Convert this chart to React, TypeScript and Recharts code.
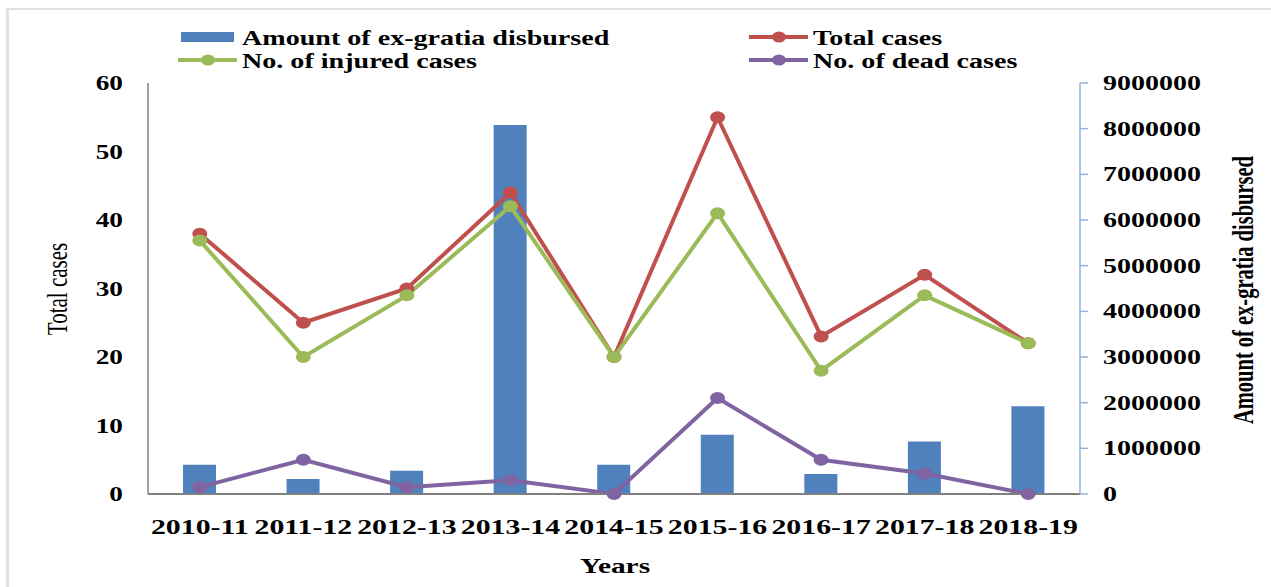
import React from 'react';
import {
  ComposedChart, Bar, Line, XAxis, YAxis, Legend, Customized,
} from 'recharts';

const years = ['2010-11', '2011-12', '2012-13', '2013-14', '2014-15', '2015-16', '2016-17', '2017-18', '2018-19'];
const exGratia = [640000, 330000, 510000, 8080000, 640000, 1300000, 440000, 1150000, 1920000];
const totalCases = [38, 25, 30, 44, 20, 55, 23, 32, 22];
const injuredCases = [37, 20, 29, 42, 20, 41, 18, 29, 22];
const deadCases = [1, 5, 1, 2, 0, 14, 5, 3, 0];
const leftTicks = [0, 10, 20, 30, 40, 50, 60];
const rightTicks = [0, 1000000, 2000000, 3000000, 4000000, 5000000, 6000000, 7000000, 8000000, 9000000];

const data = years.map((y, i) => ({
  year: y,
  amount: exGratia[i],
  total: totalCases[i],
  injured: injuredCases[i],
  dead: deadCases[i],
}));

const FONT = '"Liberation Serif", "Times New Roman", serif';
const SX = 1.4;
const BLUE = '#4F81BD';
const RED = '#C0504D';
const GREEN = '#9BBB59';
const PURPLE = '#8064A2';
const AXIS_BLUE = '#95B3D7';

const StretchText = ({ x, y, anchor, children, size = 20, weight = 'bold', sx = SX }: any) => (
  <g transform={`translate(${x},${y})`}>
    <text
      transform={`scale(${sx},1)`}
      textAnchor={anchor}
      dy="0.35em"
      fontFamily={FONT}
      fontWeight={weight}
      fontSize={size}
      fill="#000"
    >
      {children}
    </text>
  </g>
);

const LeftTick = (props: any) => (
  <StretchText x={props.x} y={props.y} anchor="end" size={21} sx={1.3}>{props.payload.value}</StretchText>
);
const RightTick = (props: any) => (
  <StretchText x={props.x} y={props.y} anchor="start">{props.payload.value}</StretchText>
);
const BottomTick = (props: any) => (
  <StretchText x={props.x} y={props.y + 33} anchor="middle" size={21.3}>{props.payload.value}</StretchText>
);

const makeDot = (color: string) => (props: any) => {
  const { cx, cy, index } = props;
  if (cx == null || cy == null) return <g key={index} />;
  return <ellipse key={index} cx={cx} cy={cy} rx={7.5} ry={6} fill={color} />;
};

const legendPos: Record<string, { x: number; y: number }> = {
  amount: { x: 178, y: 37 },
  total: { x: 749, y: 37 },
  injured: { x: 178, y: 60 },
  dead: { x: 749, y: 60 },
};

const LegendContent = (props: any) => {
  const payload = props.payload || [];
  return (
    <svg width={1271} height={80} style={{ display: 'block' }}>
      {payload.map((p: any) => {
        const pos = legendPos[p.dataKey];
        if (!pos) return null;
        const isBar = p.dataKey === 'amount';
        return (
          <g key={p.dataKey}>
            {isBar ? (
              <rect x={pos.x + 3} y={pos.y - 5} width={53} height={10} fill={BLUE} />
            ) : (
              <g>
                <line x1={pos.x} x2={pos.x + 59} y1={pos.y} y2={pos.y} stroke={p.color} strokeWidth={4} />
                <ellipse cx={pos.x + 30} cy={pos.y} rx={7} ry={5.5} fill={p.color} />
              </g>
            )}
            <StretchText x={pos.x + 64} y={pos.y + 1} anchor="start" size={20.5} sx={1.37}>{p.value}</StretchText>
          </g>
        );
      })}
    </svg>
  );
};

const Titles = () => (
  <g>
    <g transform={`translate(57,289) scale(${SX},1) rotate(-90)`}>
      <text textAnchor="middle" dy="0.35em" fontFamily={FONT} fontSize={21} fill="#000">Total cases</text>
    </g>
    <g transform={`translate(1243,290) scale(${SX},1) rotate(-90)`}>
      <text textAnchor="middle" dy="0.35em" fontFamily={FONT} fontWeight="bold" fontSize={20.5} fill="#000">Amount of ex-gratia disbursed</text>
    </g>
    <StretchText x={615} y={566} anchor="middle" size={21}>Years</StretchText>
  </g>
);

export default function App() {
  return (
    <div style={{ position: 'absolute', left: 0, top: 0, width: 1271, height: 587, background: '#fff', overflow: 'hidden' }}>
      <div style={{ position: 'absolute', left: 6, top: 8, width: 1400, height: 700, borderLeft: '3px solid #e0e0e0', borderTop: '2px solid #e0e0e0' }} />
      <div style={{ position: 'absolute', left: 0, top: 0 }}>
        <ComposedChart
          width={1271}
          height={587}
          data={data}
          margin={{ top: 83, right: 41, bottom: 33, left: 48 }}
        >
          <XAxis
            dataKey="year"
            height={60}
            tickSize={0}
            tickMargin={0}
            tick={<BottomTick />}
            axisLine={{ stroke: '#808080', strokeWidth: 2 }}
            tickLine={false}
            interval={0}
          />
          <YAxis
            yAxisId="left"
            orientation="left"
            width={100}
            domain={[0, 60]}
            ticks={leftTicks}
            tickSize={0}
            tickMargin={25}
            tick={<LeftTick />}
            axisLine={{ stroke: '#808080', strokeWidth: 1.5 }}
            tickLine={false}
          />
          <YAxis
            yAxisId="right"
            orientation="right"
            width={150}
            domain={[0, 9000000]}
            ticks={rightTicks}
            tickSize={8}
            tickMargin={15}
            tick={<RightTick />}
            axisLine={{ stroke: AXIS_BLUE, strokeWidth: 1.5 }}
            tickLine={{ stroke: AXIS_BLUE, strokeWidth: 1.5 }}
          />
          <Legend
            layout="horizontal"
            verticalAlign="middle"
            align="center"
            content={<LegendContent />}
            wrapperStyle={{ position: 'absolute', left: 0, top: 0, width: 1271, height: 80 }}
          />
          <Bar yAxisId="right" dataKey="amount" name="Amount of ex-gratia disbursed" fill={BLUE} barSize={33} isAnimationActive={false} />
          <Line yAxisId="left" dataKey="total" name="Total cases" stroke={RED} strokeWidth={4} dot={makeDot(RED)} activeDot={false} isAnimationActive={false} />
          <Line yAxisId="left" dataKey="injured" name="No. of injured cases" stroke={GREEN} strokeWidth={4} dot={makeDot(GREEN)} activeDot={false} isAnimationActive={false} />
          <Line yAxisId="left" dataKey="dead" name="No. of dead cases" stroke={PURPLE} strokeWidth={4} dot={makeDot(PURPLE)} activeDot={false} isAnimationActive={false} />
          <Customized component={Titles} />
        </ComposedChart>
      </div>
    </div>
  );
}
